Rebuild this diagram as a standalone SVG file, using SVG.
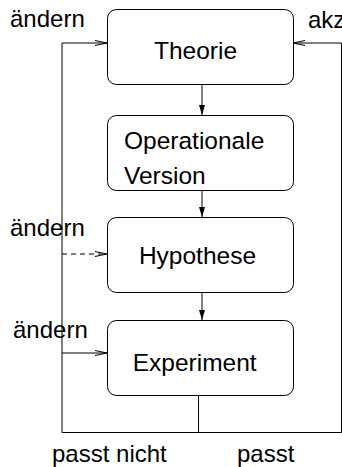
<svg xmlns="http://www.w3.org/2000/svg" width="342" height="467" viewBox="0 0 342 467">
<defs>
<style>
.box{fill:#fff;stroke:#000;stroke-width:1}
.ln{fill:none;stroke:#000;stroke-width:1}
.t{font-family:"Liberation Sans",Arial,sans-serif;font-size:24.5px;fill:#000}
.l{font-family:"Liberation Sans",Arial,sans-serif;font-size:24px;fill:#000}
</style>
<marker id="fa" viewBox="0 0 10 10" refX="10" refY="5" markerWidth="10" markerHeight="10" markerUnits="userSpaceOnUse" orient="auto">
<path d="M0,2 L10,5 L0,8 Z" fill="#000"/>
</marker>
<marker id="oa" viewBox="0 0 12 8" refX="12" refY="4" markerWidth="12" markerHeight="8" markerUnits="userSpaceOnUse" orient="auto">
<path d="M0,1.5 L12,4 L0,6.5" fill="none" stroke="#000" stroke-width="1"/>
</marker>
</defs>
<rect width="342" height="467" fill="#fff"/>
<g id="connectors">
<line class="ln" x1="202" y1="84" x2="202" y2="115" marker-end="url(#fa)"/>
<line class="ln" x1="202" y1="190" x2="202" y2="217" marker-end="url(#fa)"/>
<line class="ln" x1="202" y1="292" x2="202" y2="320" marker-end="url(#fa)"/>
<polyline class="ln" points="198.5,395 198.5,432.5"/>
<polyline class="ln" points="62,432.5 341.5,432.5"/>
<polyline class="ln" points="62,432.5 62,43 107,43" marker-end="url(#oa)"/>
<polyline class="ln" points="341.5,432.5 341.5,43 293,43" marker-end="url(#oa)"/>
<line class="ln" x1="62" y1="254" x2="107" y2="254" stroke-dasharray="5,4" marker-end="url(#oa)"/>
<line class="ln" x1="62" y1="353" x2="107" y2="353" marker-end="url(#oa)"/>
</g>
<g id="theorie">
<rect class="box" x="107.5" y="9.5" width="186" height="75" rx="9"/>
<text class="t" x="195.5" y="58.5" text-anchor="middle">Theorie</text>
</g>
<g id="operationale">
<rect class="box" x="107.5" y="115.5" width="186" height="75" rx="9"/>
<text class="t" x="124" y="148.5">Operationale</text>
<text class="t" x="124" y="183.5">Version</text>
</g>
<g id="hypothese">
<rect class="box" x="107.5" y="217.5" width="186" height="75" rx="9"/>
<text class="t" x="197.5" y="263.5" text-anchor="middle">Hypothese</text>
</g>
<g id="experiment">
<rect class="box" x="107.5" y="320.5" width="186" height="75" rx="9"/>
<text class="t" x="194.7" y="370.5" text-anchor="middle">Experiment</text>
</g>
<g id="labels">
<text class="l" x="10" y="27">ändern</text>
<text class="l" x="308" y="28">akz</text>
<text class="l" x="10" y="236">ändern</text>
<text class="l" x="13" y="338">ändern</text>
<text class="l" x="52" y="462">passt nicht</text>
<text class="l" x="237" y="462">passt</text>
</g>
</svg>
